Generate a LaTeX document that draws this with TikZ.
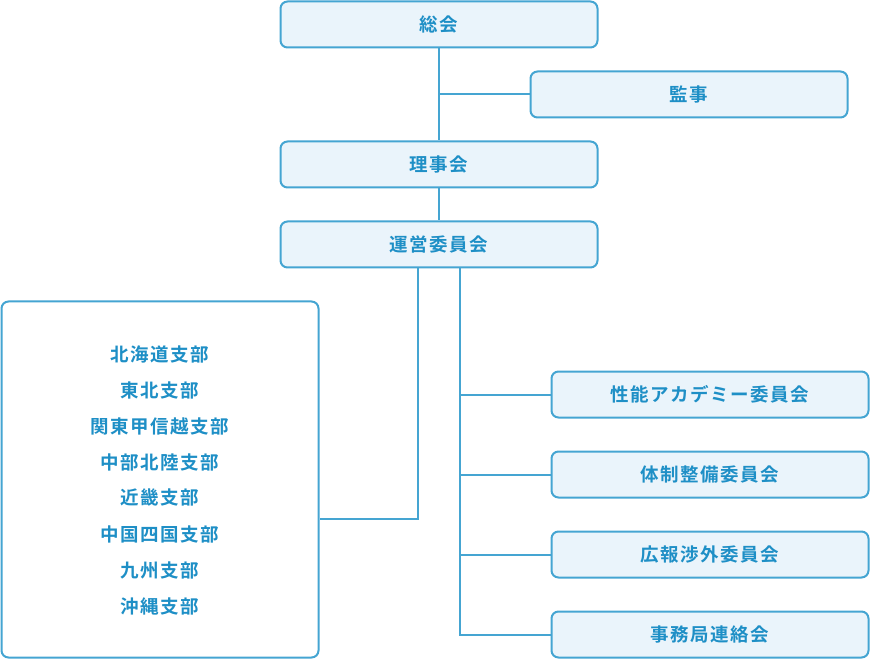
\documentclass[tikz,border=0pt]{standalone}
\usepackage{fontspec}
\newfontfamily\jp{Noto Sans CJK JP}[LetterSpace=8,BoldFont={Noto Sans CJK JP Bold}]
\usetikzlibrary{calc}
\definecolor{bline}{HTML}{45A5D2}
\definecolor{bfill}{HTML}{EAF4FB}
\definecolor{btext}{HTML}{1E8FC6}
\tikzset{
  box/.style={draw=bline, line width=2pt, fill=bfill, rounded corners=7pt,
    minimum width=317pt, minimum height=46pt, inner sep=0pt,
    text=btext, font=\jp\bfseries\fontsize{18.5pt}{22pt}\selectfont},
  branchbox/.style={draw=bline, line width=2pt, fill=white, rounded corners=7pt,
    minimum width=317pt, minimum height=356pt, inner sep=0pt},
  blabel/.style={text=btext, font=\jp\bfseries\fontsize{18.5pt}{22pt}\selectfont, inner sep=0pt},
  conn/.style={draw=bline, line width=2pt}
}
\begin{document}
\begin{tikzpicture}[x=1pt,y=-1pt]
\useasboundingbox (0,0) rectangle (870,660);
\node[box] (zs) at (439,24.5) {総会};
\node[box] (kj) at (689,94.5) {監事};
\node[box] (rj) at (439,164.5) {理事会};
\node[box] (un) at (439,244.5) {運営委員会};
\node[branchbox] (bb) at (160,479.5) {};
\node[box] (c1) at (710,394.5) {性能アカデミー委員会};
\node[box] (c2) at (710,474.5) {体制整備委員会};
\node[box] (c3) at (710,554.5) {広報渉外委員会};
\node[box] (c4) at (710,634.5) {事務局連絡会};
\node[blabel] (b1) at (160,354) {北海道支部};
\node[blabel] (b2) at (160,390) {東北支部};
\node[blabel] (b3) at (160,426) {関東甲信越支部};
\node[blabel] (b4) at (160,462) {中部北陸支部};
\node[blabel] (b5) at (160,498) {近畿支部};
\node[blabel] (b6) at (160,534) {中国四国支部};
\node[blabel] (b7) at (160,570) {九州支部};
\node[blabel] (b8) at (160,606) {沖縄支部};
\draw[conn] (zs.south) -- (rj.north);
\draw[conn] (zs.south |- kj.west) -- (kj.west);
\draw[conn] (rj.south) -- (un.north);
\draw[conn] ([xshift=-21pt]un.south) |- ([yshift=-39.5pt]bb.east);
\coordinate (tr) at ([xshift=21pt]un.south);
\draw[conn] (tr) |- (c4.west);
\draw[conn] (tr |- c1.west) -- (c1.west);
\draw[conn] (tr |- c2.west) -- (c2.west);
\draw[conn] (tr |- c3.west) -- (c3.west);
\end{tikzpicture}
\end{document}
